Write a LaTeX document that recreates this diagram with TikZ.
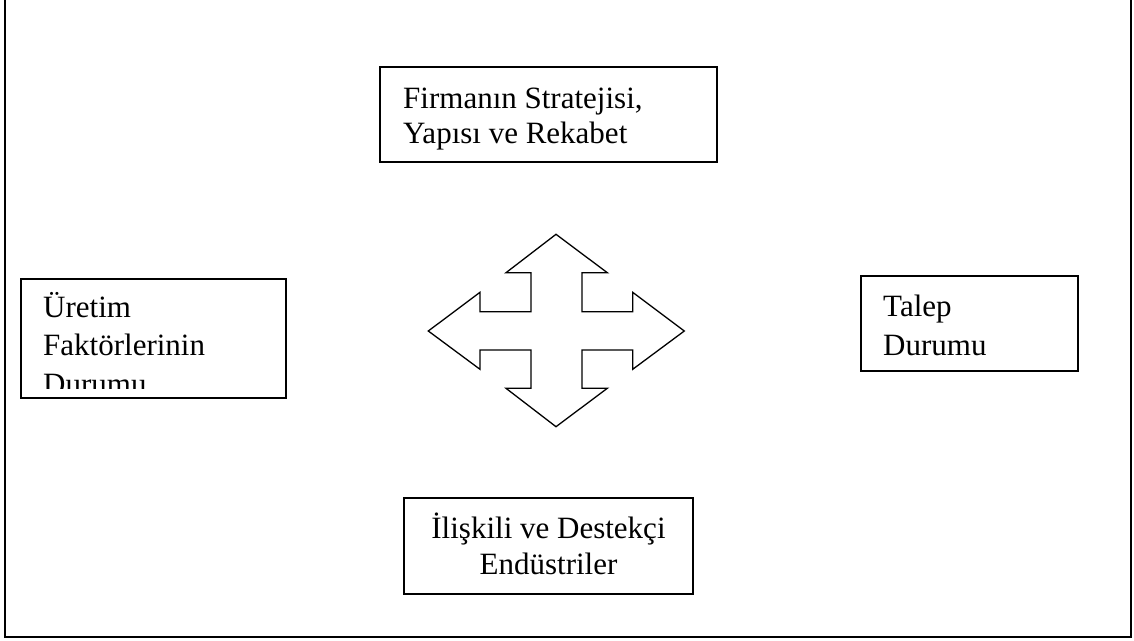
\documentclass[tikz,border=0pt]{standalone}
\usepackage{fontspec}
\setmainfont{Liberation Serif}
\begin{document}
\begin{tikzpicture}[x=1pt,y=-1pt,
  box/.style={draw=black,line width=1.4pt,fill=white,inner sep=0pt},
  txt/.style={anchor=base west,inner sep=0pt,font=\fontsize{31}{37}\selectfont},
  ctxt/.style={anchor=base,inner sep=0pt,font=\fontsize{31}{37}\selectfont}]
\useasboundingbox (0,0) rectangle (1134,640);
% outer frame (no top edge)
\draw[line width=2pt] (5,0) -- (5,637) -- (1131,637) -- (1131,0);
% boxes
\node[box,minimum width=337pt,minimum height=95pt] (strat) at (548.5,114.5) {};
\node[box,minimum width=265pt,minimum height=119pt] (uret) at (153.5,338.5) {};
\node[box,minimum width=217pt,minimum height=95pt] (talep) at (969.5,323.5) {};
\node[box,minimum width=289pt,minimum height=96pt] (ilis) at (548.5,546) {};
% texts
\node[txt] (strat1) at (403,108.3) {Firmanın Stratejisi,};
\node[txt] (strat2) at (403,143.5) {Yapısı ve Rekabet};
\begin{scope}
\clip (21,279) rectangle (286,388.5);
\node[txt] (uret1) at (43,317) {Üretim};
\node[txt] (uret2) at (43,355) {Faktörlerinin};
\node[txt] (uret3) at (43,394) {Durumu};
\end{scope}
\node[txt] (talep1) at (883,316) {Talep};
\node[txt] (talep2) at (883,355) {Durumu};
\node[ctxt] (ilis1) at (548.5,538.3) {İlişkili ve Destekçi};
\node[ctxt] (ilis2) at (548.5,574) {Endüstriler};
% four-way arrow
\draw[line width=1.3pt,line join=miter] (556,234.3) -- (607.3,272.7) -- (582,272.7) -- (582,311.7)
  -- (632.7,311.7) -- (632.7,292.3) -- (684.3,331) -- (632.7,369.3) -- (632.7,350)
  -- (582,350) -- (582,388.3) -- (607.3,388.3) -- (556,426.7) -- (506,388.3) -- (531,388.3)
  -- (531,350) -- (480,350) -- (480,369.3) -- (428.3,331) -- (480,292.3) -- (480,311.7)
  -- (531,311.7) -- (531,272.7) -- (506,272.7) -- cycle;
\end{tikzpicture}
\end{document}
